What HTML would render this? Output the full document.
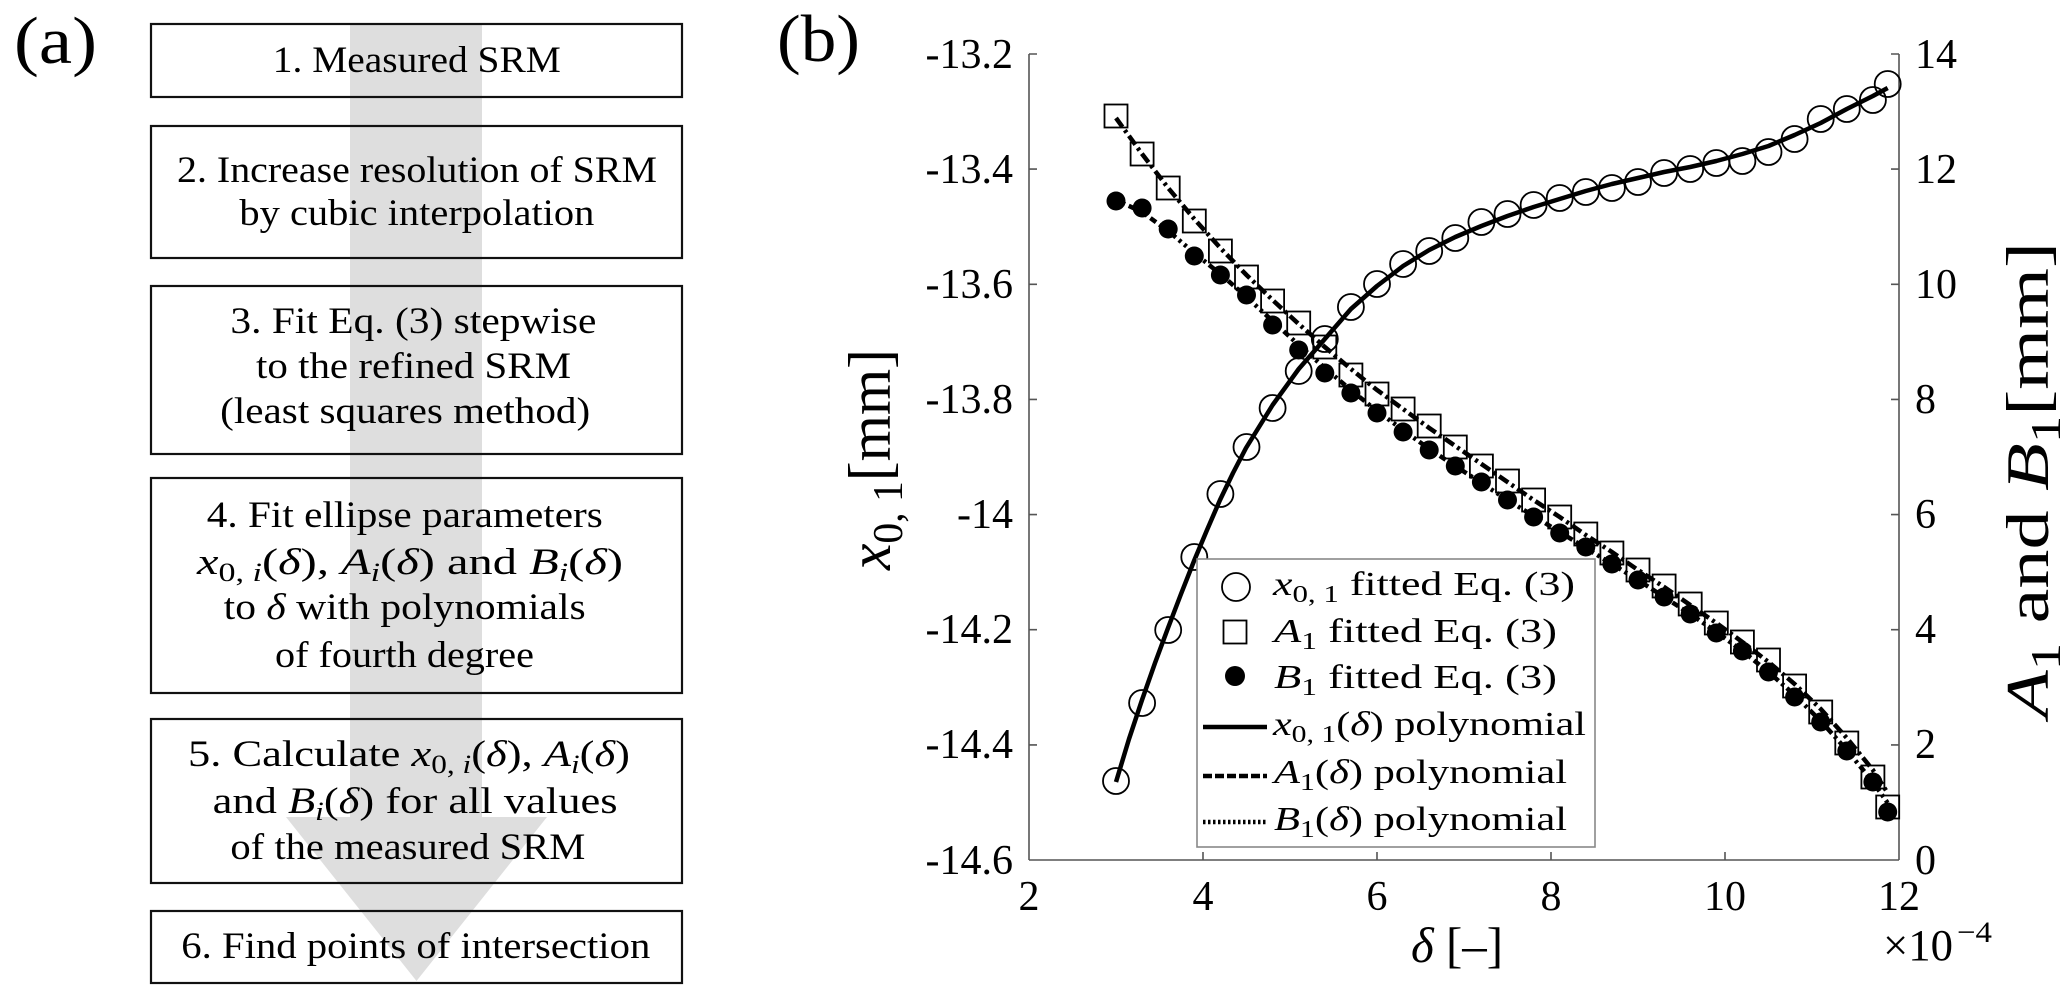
<!DOCTYPE html>
<html>
<head>
<meta charset="utf-8">
<style>
html,body{margin:0;padding:0;background:#fff;}
svg{display:block;}
text{font-family:"Liberation Serif",serif;fill:#000;}
</style>
</head>
<body>
<svg width="2067" height="996" viewBox="0 0 2067 996" xmlns="http://www.w3.org/2000/svg">
<rect x="0" y="0" width="2067" height="996" fill="#fff"/>

<!-- ===== (a) flowchart ===== -->
<text x="14" y="63" font-size="67" textLength="83" lengthAdjust="spacingAndGlyphs">(a)</text>

<rect x="350" y="24" width="132" height="793" fill="#dedede"/>
<polygon points="286,817 547,817 416.5,981" fill="#dedede"/>

<g fill="none" stroke="#111" stroke-width="2.2">
<rect x="151" y="24" width="531" height="73"/>
<rect x="151" y="126" width="531" height="132"/>
<rect x="151" y="286" width="531" height="168"/>
<rect x="151" y="478" width="531" height="215"/>
<rect x="151" y="719" width="531" height="164"/>
<rect x="151" y="911" width="531" height="72"/>
</g>

<g font-size="37">
<text x="272.8" y="72" textLength="288" lengthAdjust="spacingAndGlyphs">1. Measured SRM</text>
<text x="177" y="182" textLength="480" lengthAdjust="spacingAndGlyphs">2. Increase resolution of SRM</text>
<text x="239.4" y="225" textLength="355" lengthAdjust="spacingAndGlyphs">by cubic interpolation</text>
<text x="230.4" y="333" textLength="366" lengthAdjust="spacingAndGlyphs">3. Fit Eq. (3) stepwise</text>
<text x="256" y="378" textLength="315" lengthAdjust="spacingAndGlyphs">to the refined SRM</text>
<text x="220.2" y="423" textLength="370" lengthAdjust="spacingAndGlyphs">(least squares method)</text>
<text x="206.8" y="527" textLength="396" lengthAdjust="spacingAndGlyphs">4. Fit ellipse parameters</text>
<text x="197" y="574" textLength="426" lengthAdjust="spacingAndGlyphs"><tspan font-style="italic">x</tspan><tspan font-size="26" dy="7">0, </tspan><tspan font-size="26" font-style="italic">i</tspan><tspan dy="-7">(</tspan><tspan font-style="italic">δ</tspan><tspan>), </tspan><tspan font-style="italic">A</tspan><tspan font-size="26" font-style="italic" dy="7">i</tspan><tspan dy="-7">(</tspan><tspan font-style="italic">δ</tspan><tspan>) and </tspan><tspan font-style="italic">B</tspan><tspan font-size="26" font-style="italic" dy="7">i</tspan><tspan dy="-7">(</tspan><tspan font-style="italic">δ</tspan><tspan>)</tspan></text>
<text x="223.7" y="619" textLength="362" lengthAdjust="spacingAndGlyphs">to <tspan font-style="italic">δ</tspan> with polynomials</text>
<text x="275" y="667" textLength="259" lengthAdjust="spacingAndGlyphs">of fourth degree</text>
<text x="188" y="766" textLength="442" lengthAdjust="spacingAndGlyphs">5. Calculate <tspan font-style="italic">x</tspan><tspan font-size="26" dy="7">0, </tspan><tspan font-size="26" font-style="italic">i</tspan><tspan dy="-7">(</tspan><tspan font-style="italic">δ</tspan><tspan>), </tspan><tspan font-style="italic">A</tspan><tspan font-size="26" font-style="italic" dy="7">i</tspan><tspan dy="-7">(</tspan><tspan font-style="italic">δ</tspan><tspan>)</tspan></text>
<text x="212.6" y="813" textLength="405" lengthAdjust="spacingAndGlyphs">and <tspan font-style="italic">B</tspan><tspan font-size="26" font-style="italic" dy="7">i</tspan><tspan dy="-7">(</tspan><tspan font-style="italic">δ</tspan><tspan>) for all values</tspan></text>
<text x="230.4" y="859" textLength="355" lengthAdjust="spacingAndGlyphs">of the measured SRM</text>
<text x="181.3" y="958" textLength="469" lengthAdjust="spacingAndGlyphs">6. Find points of intersection</text>
</g>

<!-- ===== (b) chart ===== -->
<text x="777" y="61" font-size="67" textLength="83" lengthAdjust="spacingAndGlyphs">(b)</text>

<!-- axes -->
<g stroke="#555" stroke-width="1.6" fill="none">
<line x1="1029" y1="54" x2="1029" y2="860"/>
<line x1="1899" y1="54" x2="1899" y2="860"/>
<line x1="1029" y1="860" x2="1899" y2="860"/>
<!-- left ticks -->
<path d="M1029 54h8M1029 169.1h8M1029 284.3h8M1029 399.4h8M1029 514.6h8M1029 629.7h8M1029 744.9h8"/>
<!-- right ticks -->
<path d="M1899 54h-8M1899 169.1h-8M1899 284.3h-8M1899 399.4h-8M1899 514.6h-8M1899 629.7h-8M1899 744.9h-8"/>
<!-- x ticks -->
<path d="M1203 860v-8M1377 860v-8M1551 860v-8M1725 860v-8"/>
</g>

<!-- left tick labels -->
<g font-size="42" text-anchor="end">
<text x="1013" y="68">-13.2</text>
<text x="1013" y="183">-13.4</text>
<text x="1013" y="298">-13.6</text>
<text x="1013" y="413">-13.8</text>
<text x="1013" y="528">-14</text>
<text x="1013" y="643">-14.2</text>
<text x="1013" y="758">-14.4</text>
<text x="1013" y="874">-14.6</text>
</g>
<!-- right tick labels -->
<g font-size="42">
<text x="1915" y="68">14</text>
<text x="1915" y="183">12</text>
<text x="1915" y="298">10</text>
<text x="1915" y="413">8</text>
<text x="1915" y="528">6</text>
<text x="1915" y="643">4</text>
<text x="1915" y="758">2</text>
<text x="1915" y="874">0</text>
</g>
<!-- x tick labels -->
<g font-size="42" text-anchor="middle">
<text x="1029" y="910">2</text>
<text x="1203" y="910">4</text>
<text x="1377" y="910">6</text>
<text x="1551" y="910">8</text>
<text x="1725" y="910">10</text>
<text x="1899" y="910">12</text>
</g>

<!-- x label -->
<text x="1411" y="962" font-size="50" textLength="92" lengthAdjust="spacingAndGlyphs"><tspan font-style="italic">δ</tspan> [–]</text>
<text x="1883" y="960" font-size="44" textLength="70" lengthAdjust="spacingAndGlyphs">×10</text>
<text x="1957" y="942" font-size="30" textLength="35" lengthAdjust="spacingAndGlyphs">−4</text>

<!-- y labels -->
<text transform="translate(890,570) rotate(-90)" font-size="60" textLength="221" lengthAdjust="spacingAndGlyphs"><tspan font-style="italic">x</tspan><tspan font-size="42" dy="12">0, 1</tspan><tspan dy="-12">[mm]</tspan></text>
<text transform="translate(2048,718) rotate(-90)" font-size="60" textLength="476" lengthAdjust="spacingAndGlyphs"><tspan font-style="italic">A</tspan><tspan font-size="42" dy="12">1</tspan><tspan dy="-12"> and </tspan><tspan font-style="italic">B</tspan><tspan font-size="42" dy="12">1</tspan><tspan dy="-12">[mm]</tspan></text>

<!-- series lines -->
<polyline fill="none" stroke="#000" stroke-width="4.5" stroke-linejoin="round" points="1116,782 1129,739 1142,700 1155,663 1168,628 1181,594 1194,561 1207,530 1220,500 1233,473 1246,448 1272.6,405 1298.7,369 1324.8,339 1350.9,309 1377,286 1403.1,266 1429.2,250 1455.3,237 1481.4,226 1507.5,216 1533.6,207 1559.7,199 1585.8,191 1611.9,184 1638,178 1664.1,172 1690.2,167 1716.3,161 1742.4,154 1768.5,146 1794.6,135 1820.7,123 1846.8,109 1872.9,96 1887.7,88"/>
<polyline fill="none" stroke="#000" stroke-width="4.5" stroke-dasharray="11 4 3 4" points="1116,118 1142.1,154 1168.2,188 1194.3,219 1220.4,248 1246.5,275 1272.6,300 1298.7,324 1324.8,347 1350.9,369 1377,390 1403.1,409 1429.2,428 1455.3,446 1481.4,464 1507.5,482 1533.6,500 1559.7,517 1585.8,535 1611.9,552 1638,570 1664.1,587 1690.2,605 1716.3,623 1742.4,642 1768.5,662 1794.6,684 1820.7,709 1846.8,738 1872.9,770 1887.7,793"/>
<polyline fill="none" stroke="#000" stroke-width="4.5" stroke-dasharray="3 4 3 4 7 4" points="1116,200 1142.1,212 1168.2,231 1194.3,253 1220.4,274 1246.5,297 1272.6,321 1298.7,345 1324.8,368 1350.9,390 1377,411 1403.1,430 1429.2,449 1455.3,466 1481.4,483 1507.5,500 1533.6,516 1559.7,532 1585.8,548 1611.9,564 1638,580 1664.1,597 1690.2,614 1716.3,632 1742.4,651 1768.5,672 1794.6,695 1820.7,721 1846.8,750 1872.9,782 1887.7,803"/>

<!-- circle markers -->
<g fill="none" stroke="#000" stroke-width="1.8">
<circle cx="1116" cy="781" r="13"/><circle cx="1142.1" cy="703" r="13"/><circle cx="1168.2" cy="630" r="13"/><circle cx="1194.3" cy="557" r="13"/><circle cx="1220.4" cy="494" r="13"/><circle cx="1246.5" cy="447" r="13"/><circle cx="1272.6" cy="408" r="13"/><circle cx="1298.7" cy="371" r="13"/><circle cx="1324.8" cy="339" r="13"/><circle cx="1350.9" cy="307" r="13"/><circle cx="1377" cy="284" r="13"/><circle cx="1403.1" cy="264" r="13"/><circle cx="1429.2" cy="251" r="13"/><circle cx="1455.3" cy="238" r="13"/><circle cx="1481.4" cy="222" r="13"/><circle cx="1507.5" cy="214" r="13"/><circle cx="1533.6" cy="205" r="13"/><circle cx="1559.7" cy="198" r="13"/><circle cx="1585.8" cy="192" r="13"/><circle cx="1611.9" cy="188" r="13"/><circle cx="1638" cy="182" r="13"/><circle cx="1664.1" cy="173" r="13"/><circle cx="1690.2" cy="169" r="13"/><circle cx="1716.3" cy="163" r="13"/><circle cx="1742.4" cy="161" r="13"/><circle cx="1768.5" cy="152" r="13"/><circle cx="1794.6" cy="139" r="13"/><circle cx="1820.7" cy="119" r="13"/><circle cx="1846.8" cy="109" r="13"/><circle cx="1872.9" cy="100" r="13"/><circle cx="1887.7" cy="84" r="13"/>
</g>

<!-- square markers -->
<g fill="none" stroke="#000" stroke-width="1.8">
<rect x="1104.5" y="104.5" width="23" height="23"/><rect x="1130.6" y="142.5" width="23" height="23"/><rect x="1156.7" y="176.5" width="23" height="23"/><rect x="1182.8" y="209.5" width="23" height="23"/><rect x="1208.9" y="239.5" width="23" height="23"/><rect x="1235" y="265.5" width="23" height="23"/><rect x="1261.1" y="289.5" width="23" height="23"/><rect x="1287.2" y="311.5" width="23" height="23"/><rect x="1313.3" y="335.5" width="23" height="23"/><rect x="1339.4" y="363.5" width="23" height="23"/><rect x="1365.5" y="382.5" width="23" height="23"/><rect x="1391.6" y="397.5" width="23" height="23"/><rect x="1417.7" y="414.5" width="23" height="23"/><rect x="1443.8" y="435.5" width="23" height="23"/><rect x="1469.9" y="454.5" width="23" height="23"/><rect x="1496" y="469.5" width="23" height="23"/><rect x="1522.1" y="488.5" width="23" height="23"/><rect x="1548.2" y="505.5" width="23" height="23"/><rect x="1574.3" y="522.5" width="23" height="23"/><rect x="1600.4" y="541.5" width="23" height="23"/><rect x="1626.5" y="558.5" width="23" height="23"/><rect x="1652.6" y="574.5" width="23" height="23"/><rect x="1678.7" y="592.5" width="23" height="23"/><rect x="1704.8" y="611.5" width="23" height="23"/><rect x="1730.9" y="630.5" width="23" height="23"/><rect x="1757" y="648.5" width="23" height="23"/><rect x="1783.1" y="674.5" width="23" height="23"/><rect x="1809.2" y="700.5" width="23" height="23"/><rect x="1835.3" y="731.5" width="23" height="23"/><rect x="1861.4" y="765.5" width="23" height="23"/><rect x="1876.2" y="795.5" width="23" height="23"/>
</g>

<!-- filled dots -->
<g fill="#000">
<circle cx="1116" cy="201" r="9.5"/><circle cx="1142.1" cy="208" r="9.5"/><circle cx="1168.2" cy="229" r="9.5"/><circle cx="1194.3" cy="256" r="9.5"/><circle cx="1220.4" cy="275" r="9.5"/><circle cx="1246.5" cy="295" r="9.5"/><circle cx="1272.6" cy="325" r="9.5"/><circle cx="1298.7" cy="350" r="9.5"/><circle cx="1324.8" cy="373" r="9.5"/><circle cx="1350.9" cy="393" r="9.5"/><circle cx="1377" cy="413" r="9.5"/><circle cx="1403.1" cy="432" r="9.5"/><circle cx="1429.2" cy="450" r="9.5"/><circle cx="1455.3" cy="466" r="9.5"/><circle cx="1481.4" cy="482" r="9.5"/><circle cx="1507.5" cy="500" r="9.5"/><circle cx="1533.6" cy="517" r="9.5"/><circle cx="1559.7" cy="533" r="9.5"/><circle cx="1585.8" cy="547" r="9.5"/><circle cx="1611.9" cy="564" r="9.5"/><circle cx="1638" cy="580" r="9.5"/><circle cx="1664.1" cy="597" r="9.5"/><circle cx="1690.2" cy="614" r="9.5"/><circle cx="1716.3" cy="633" r="9.5"/><circle cx="1742.4" cy="651" r="9.5"/><circle cx="1768.5" cy="672" r="9.5"/><circle cx="1794.6" cy="697" r="9.5"/><circle cx="1820.7" cy="722" r="9.5"/><circle cx="1846.8" cy="751" r="9.5"/><circle cx="1872.9" cy="782" r="9.5"/><circle cx="1887.7" cy="812" r="9.5"/>
</g>

<!-- legend -->
<rect x="1197" y="559" width="398" height="288" fill="#fff" stroke="#888" stroke-width="1.6"/>
<circle cx="1236" cy="587" r="14" fill="none" stroke="#000" stroke-width="1.8"/>
<rect x="1223.5" y="620.5" width="23" height="23" fill="none" stroke="#000" stroke-width="1.8"/>
<circle cx="1235" cy="676" r="10" fill="#000"/>
<line x1="1203" y1="727" x2="1267" y2="727" stroke="#000" stroke-width="4.5"/>
<line x1="1203" y1="776" x2="1267" y2="776" stroke="#000" stroke-width="4.5" stroke-dasharray="9 3"/>
<line x1="1203" y1="822" x2="1267" y2="822" stroke="#000" stroke-width="4.5" stroke-dasharray="2.5 2.5"/>
<g font-size="34">
<text x="1273" y="595" textLength="302" lengthAdjust="spacingAndGlyphs"><tspan font-style="italic">x</tspan><tspan font-size="24" dy="7">0, 1</tspan><tspan dy="-7"> fitted Eq. (3)</tspan></text>
<text x="1274" y="642" textLength="283" lengthAdjust="spacingAndGlyphs"><tspan font-style="italic">A</tspan><tspan font-size="24" dy="7">1</tspan><tspan dy="-7"> fitted Eq. (3)</tspan></text>
<text x="1274" y="688" textLength="283" lengthAdjust="spacingAndGlyphs"><tspan font-style="italic">B</tspan><tspan font-size="24" dy="7">1</tspan><tspan dy="-7"> fitted Eq. (3)</tspan></text>
<text x="1273" y="735" textLength="313" lengthAdjust="spacingAndGlyphs"><tspan font-style="italic">x</tspan><tspan font-size="24" dy="7">0, 1</tspan><tspan dy="-7">(</tspan><tspan font-style="italic">δ</tspan><tspan>) polynomial</tspan></text>
<text x="1274" y="783" textLength="293" lengthAdjust="spacingAndGlyphs"><tspan font-style="italic">A</tspan><tspan font-size="24" dy="7">1</tspan><tspan dy="-7">(</tspan><tspan font-style="italic">δ</tspan><tspan>) polynomial</tspan></text>
<text x="1274" y="830" textLength="293" lengthAdjust="spacingAndGlyphs"><tspan font-style="italic">B</tspan><tspan font-size="24" dy="7">1</tspan><tspan dy="-7">(</tspan><tspan font-style="italic">δ</tspan><tspan>) polynomial</tspan></text>
</g>
</svg>
</body>
</html>
